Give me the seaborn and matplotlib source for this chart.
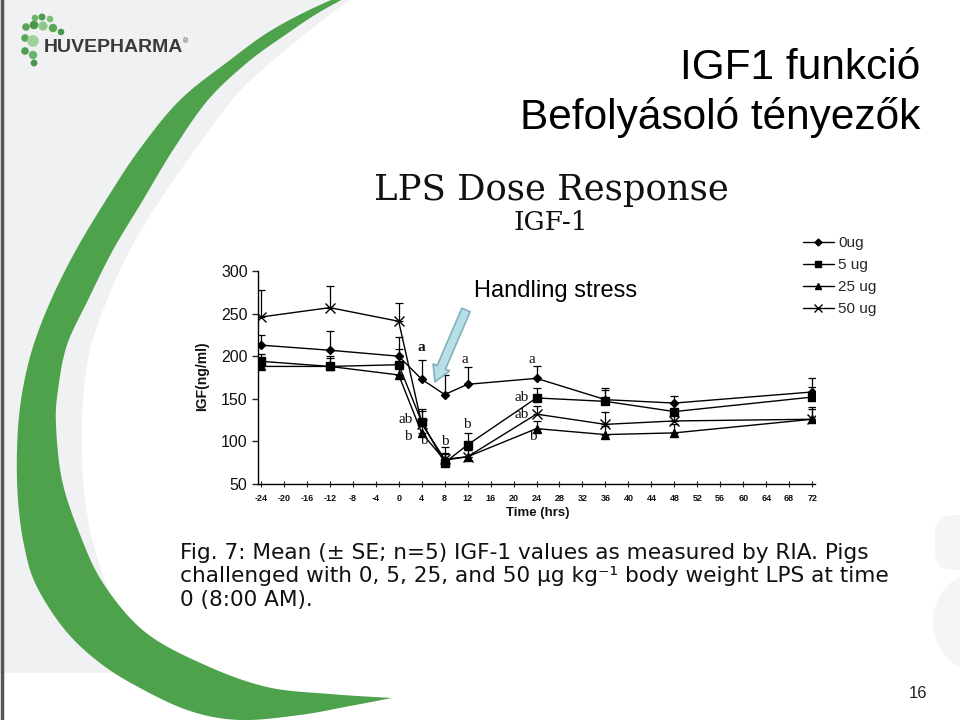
import numpy as np
import pandas as pd
import matplotlib
matplotlib.use("Agg")
import matplotlib.pyplot as plt
from matplotlib.patches import Polygon, Circle, FancyBboxPatch, FancyArrow
from matplotlib.lines import Line2D
import seaborn as sns

# ---------------- data ----------------
times = [-24, -12, 0, 4, 8, 12, 24, 36, 48, 72]
dose_labels = ["0ug", "5 ug", "25 ug", "50 ug"]
igf_0ug = [213, 207, 200, 173, 155, 167, 174, 149, 145, 158]
igf_5ug = [194, 188, 190, 123, 75, 96, 151, 147, 135, 152]
igf_25ug = [188, 188, 178, 110, 78, 82, 115, 108, 110, 126]
igf_50ug = [246, 257, 241, 121, 79, 82, 132, 120, 124, 126]
se_0ug = [12, 22, 23, 23, 23, 20, 14, 14, 8, 16]
se_5ug = [8, 12, 18, 15, 10, 14, 12, 13, 10, 12]
se_25ug = [8, 10, 10, 12, 8, 8, 9, 10, 10, 12]
se_50ug = [32, 25, 22, 15, 14, 8, 10, 14, 10, 14]
y_ticks = [50, 100, 150, 200, 250, 300]
x_ticks = list(range(-24, 73, 4))
# significance letters
sig_time = [4, 11.5, 23.2, 1.3, 1.6, 4.3, 8.1, 11.8, 21.4, 21.4, 23.4]
sig_value = [210, 196, 196, 126, 106, 101, 100, 120, 152, 132, 106]
sig_text = ["a", "a", "a", "ab", "b", "b", "b", "b", "ab", "ab", "b"]

series_vals = [igf_0ug, igf_5ug, igf_25ug, igf_50ug]
series_se = [se_0ug, se_5ug, se_25ug, se_50ug]
df = pd.DataFrame({
    "time": times * 4,
    "igf": sum(series_vals, []),
    "se": sum(series_se, []),
    "dose": sum([[d] * len(times) for d in dose_labels], []),
})

# ---------------- style ----------------
sns.set_theme(style="white")
plt.rcParams["font.family"] = ["Liberation Sans", "DejaVu Sans"]
plt.rcParams["axes.unicode_minus"] = False

W, H = 960, 720
fig = plt.figure(figsize=(9.6, 7.2), dpi=100)
fig.patch.set_facecolor("white")

bg = fig.add_axes([0, 0, 1, 1], zorder=0)
bg.set_xlim(0, W)
bg.set_ylim(H, 0)
bg.axis("off")


def smooth(pts, n=24):
    P = np.asarray(pts, float)
    P = np.vstack([P[0], P, P[-1]])
    out = []
    t = np.linspace(0, 1, n, endpoint=False)[:, None]
    for i in range(1, len(P) - 2):
        p0, p1, p2, p3 = P[i - 1], P[i], P[i + 1], P[i + 2]
        out.append(0.5 * ((2 * p1) + (-p0 + p2) * t + (2 * p0 - 5 * p1 + 4 * p2 - p3) * t ** 2
                          + (-p0 + 3 * p1 - 3 * p2 + p3) * t ** 3))
    out.append(P[-2][None])
    return np.vstack(out)


gray_edge = [(352, -2), (310, 30), (262, 70), (232, 100), (195, 150), (160, 200), (130, 250),
             (107, 300), (90, 350), (83, 400), (82, 450), (85, 500), (95, 550), (113, 600),
             (135, 625), (170, 650), (212, 673)]
gpts = np.vstack([[(-5, -5)], smooth(gray_edge), [(-5, 673)]])
bg.add_patch(Polygon(gpts, closed=True, fc="#f0f1f3", ec="none"))

outer = [(338, -3), (305, 12), (267, 33), (230, 60), (180, 100), (139, 150), (106, 200),
         (76, 250), (51, 300), (32, 350), (21, 400), (17, 450), (18, 500), (24, 545),
         (36, 585), (65, 630), (100, 663), (140, 688), (190, 711), (240, 720), (300, 715),
         (350, 706), (392, 698)]
inner = [(392, 698), (330, 694), (267, 687), (205, 665), (145, 632), (103, 583), (79, 532),
         (62, 480), (56, 425), (58, 390), (67, 345), (88, 300), (113, 250), (143, 200),
         (173, 150), (208, 100), (248, 62), (288, 33), (318, 13), (347, -3)]
green_pts = np.vstack([smooth(outer), smooth(inner)])
bg.add_patch(Polygon(green_pts, closed=True, fc="#4ea24b", ec="none"))

bg.add_patch(FancyBboxPatch((935, 515), 60, 55, boxstyle="round,pad=0,rounding_size=18",
                            fc="#f5f5f6", ec="none"))
bg.add_patch(Circle((985, 622), 52, fc="#f5f5f6", ec="none"))
bg.plot([1.5, 1.5], [0, H], color="#555555", lw=2.5)

dots = [(35, 18, 3.3), (42, 17, 3.5), (50, 19, 3.3), (26, 27, 3.8), (34, 25, 4.3),
        (43, 26, 4.6), (53, 28, 4.2), (61, 32, 3.3), (25, 38, 3.8), (33, 41, 5.8),
        (25, 51, 3.8), (33, 55, 4.2), (34, 63, 3.4)]
dot_cols = ["#6bb36a", "#4e9d4e", "#7cbf7a", "#5aa55a", "#4a964a", "#8cc98a", "#5aa55a",
            "#4a964a", "#5aa55a", "#9ed29b", "#4e9d4e", "#6bb36a", "#4a964a"]
for (x, y, r), c in zip(dots, dot_cols):
    bg.add_patch(Circle((x, y), r, fc=c, ec="none"))
bg.text(44, 47, "HUVEPHARMA", fontsize=14, fontweight="bold", color="#3a3a3a",
        va="center", ha="left")
bg.text(183, 42, "®", fontsize=5, color="#3a3a3a", va="center", ha="left")

bg.text(920, 68, "IGF1 funkció", fontsize=30.5, ha="right", va="center", color="black")
bg.text(920, 117, "Befolyásoló tényezők", fontsize=30.5, ha="right", va="center",
        color="black")
bg.text(551, 190, "LPS Dose Response", fontsize=25.5, ha="center", va="center",
        family=["DejaVu Serif"], color="#111111")
bg.text(551, 222, "IGF-1", fontsize=19, ha="center", va="center",
        family=["DejaVu Serif"], color="#111111")
bg.text(918, 694, "16", fontsize=12, ha="center", va="center", color="#222222")

caption = ["Fig. 7: Mean (± SE; n=5) IGF-1 values as measured by RIA. Pigs",
           "challenged with 0, 5, 25, and 50 μg kg⁻¹ body weight LPS at time",
           "0 (8:00 AM)."]
for i, line in enumerate(caption):
    bg.text(180, 553 + i * 23.5, line, fontsize=15.6, ha="left", va="center", color="#111111",
            family=["DejaVu Sans"])

bg.text(202, 376, "IGF(ng/ml)", fontsize=10, fontweight="bold", rotation=90,
        ha="center", va="center", color="#111111")
bg.text(538, 513, "Time (hrs)", fontsize=9.5, fontweight="bold", ha="center", va="center",
        color="#111111")

# ---------------- chart ----------------
ax = fig.add_axes([258 / W, 1 - 484 / H, (815 - 258) / W, (484 - 271) / H], zorder=1)
ax.patch.set_alpha(0)
markers = {"0ug": "D", "5 ug": "s", "25 ug": "^", "50 ug": "x"}
sizes = {"0ug": 4.5, "5 ug": 5.5, "25 ug": 5.5, "50 ug": 7}
for d in dose_labels:
    sub = df[df["dose"] == d]
    sns.lineplot(data=sub, x="time", y="igf", marker=markers[d], markersize=sizes[d],
                 color="black", linewidth=1.0, markeredgecolor="black",
                 markeredgewidth=1.0, legend=False, ax=ax, estimator=None)
    ax.errorbar(sub["time"], sub["igf"], yerr=[np.zeros(len(sub)), sub["se"]], fmt="none",
                ecolor="black", elinewidth=0.9, capsize=3, capthick=0.9)

ax.set_xlim(-24.5, 72.5)
ax.set_ylim(50, 300)
ax.set_xticks(x_ticks)
ax.set_yticks(y_ticks)
ax.set_xlabel("")
ax.set_ylabel("")
for s in ["top", "right"]:
    ax.spines[s].set_visible(False)
for s in ["left", "bottom"]:
    ax.spines[s].set_color("black")
    ax.spines[s].set_linewidth(1.0)
ax.tick_params(axis="y", direction="out", length=4, width=1, pad=3.5, labelsize=11.5,
               labelcolor="#111111", left=True)
ax.tick_params(axis="x", direction="inout", length=4, width=0.8, pad=5, labelsize=6.5,
               labelcolor="#111111", bottom=True)
for lab in ax.get_xticklabels():
    lab.set_fontweight("bold")

for tx, ty, tt in zip(sig_time, sig_value, sig_text):
    ax.text(tx, ty, tt, fontsize=11, ha="center", va="center",
            fontweight="bold" if (tx == 4 and tt == "a") else "normal",
            family=["Liberation Serif", "DejaVu Serif"], color="#111111")

handles = [Line2D([0], [0], color="black", lw=1, marker=markers[d], markersize=sizes[d] - 1,
                  markeredgecolor="black") for d in dose_labels]
fig.legend(handles, dose_labels, loc="upper left", bbox_to_anchor=(797 / W, 1 - 230 / H),
           frameon=False, fontsize=11, handlelength=2.0, handletextpad=0.3,
           labelspacing=0.52, borderaxespad=0)

# ---------------- overlay ----------------
ov = fig.add_axes([0, 0, 1, 1], zorder=3)
ov.set_xlim(0, W)
ov.set_ylim(H, 0)
ov.axis("off")
ov.patch.set_alpha(0)
ov.text(474, 291, "Handling stress", fontsize=17, ha="left", va="center", color="black")
ov.add_patch(FancyArrow(466, 310, -31, 72, width=9, head_width=18, head_length=16,
                        length_includes_head=True, fc="#b9dfe6", ec="#7fb2bd", lw=1.2))

fig.savefig("out.png", dpi=100, facecolor="white")
